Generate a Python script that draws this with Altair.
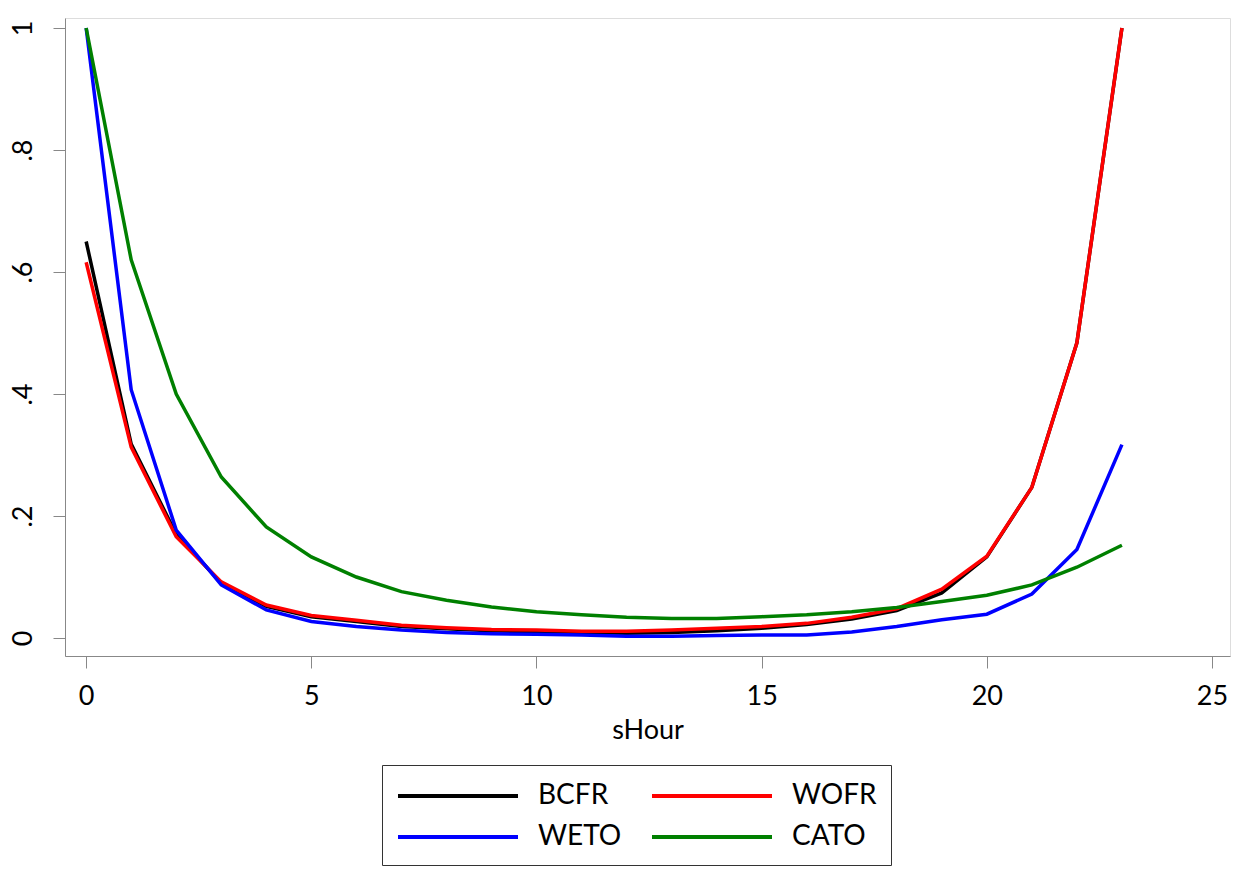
import altair as alt
import pandas as pd

# Hour of day (0-23) and the normalised profile of each series
hours = list(range(24))
bcfr = [0.650, 0.318, 0.170, 0.090, 0.052, 0.035, 0.027, 0.019, 0.015, 0.012,
        0.010, 0.009, 0.008, 0.009, 0.012, 0.016, 0.022, 0.031, 0.045, 0.074,
        0.133, 0.247, 0.484, 1.000]
wofr = [0.616, 0.313, 0.166, 0.092, 0.054, 0.037, 0.029, 0.021, 0.017, 0.014,
        0.013, 0.011, 0.011, 0.013, 0.016, 0.019, 0.024, 0.034, 0.048, 0.080,
        0.134, 0.247, 0.484, 1.000]
weto = [1.000, 0.407, 0.177, 0.087, 0.046, 0.027, 0.019, 0.013, 0.009, 0.007,
        0.006, 0.005, 0.003, 0.003, 0.004, 0.005, 0.005, 0.010, 0.019, 0.030,
        0.039, 0.072, 0.145, 0.317]
cato = [1.000, 0.620, 0.400, 0.264, 0.182, 0.133, 0.100, 0.076, 0.062, 0.051,
        0.043, 0.038, 0.034, 0.032, 0.032, 0.035, 0.038, 0.043, 0.050, 0.060,
        0.070, 0.087, 0.116, 0.152]

series_names = ["BCFR", "WOFR", "WETO", "CATO"]
series_colors = ["#000000", "#ff0000", "#0000ff", "#008000"]
series_values = [bcfr, wofr, weto, cato]
# legend entries fill column by column: BCFR/WETO left, WOFR/CATO right
legend_order = ["BCFR", "WETO", "WOFR", "CATO"]

x_ticks = [0, 5, 10, 15, 20, 25]
y_ticks = [0, 0.2, 0.4, 0.6, 0.8, 1.0]

rows = []
for order, (name, vals) in enumerate(zip(series_names, series_values)):
    for h, v in zip(hours, vals):
        rows.append({"sHour": h, "value": v, "series": name, "order": order})
df = pd.DataFrame(rows)

FONT = "Lato"

chart = (
    alt.Chart(df)
    .mark_line(strokeWidth=3.5)
    .encode(
        x=alt.X(
            "sHour:Q",
            scale=alt.Scale(domain=[-0.47, 25.4], nice=False, zero=False),
            axis=alt.Axis(
                values=x_ticks, title="sHour", grid=False,
                labelFontSize=27, titleFontSize=27, titleFontWeight="normal",
                labelPadding=15, titlePadding=8, tickSize=12,
                labelFont=FONT, titleFont=FONT, labelColor="#000000",
                titleColor="#000000",
            ),
        ),
        y=alt.Y(
            "value:Q",
            scale=alt.Scale(domain=[-0.0295, 1.0164], nice=False, zero=False),
            axis=alt.Axis(
                values=y_ticks, title=None, grid=False,
                labelExpr="datum.value == 0 ? '0' : datum.value == 1 ? '1' : replace(format(datum.value, '.1f'), '0.', '.')",
                labelAngle=270, labelAlign="center", labelBaseline="bottom",
                labelFontSize=27, labelPadding=16, tickSize=12,
                labelFont=FONT, labelColor="#000000",
            ),
        ),
        color=alt.Color(
            "series:N",
            scale=alt.Scale(domain=series_names, range=series_colors),
            legend=alt.Legend(
                title=None, orient="none", legendX=317, legendY=747,
                values=legend_order, columns=2,
                symbolType="M-1,0H7", symbolSize=900,
                symbolStrokeWidth=4, symbolFillColor="transparent",
                labelFontSize=28, labelFont=FONT, labelOffset=108,
                labelColor="#000000", strokeColor="#333333", padding=14,
                columnPadding=22, rowPadding=10, symbolLimit=0,
            ),
        ),
        order=alt.Order("order:Q"),
    )
    .properties(
        width=1165,
        height=638,
        autosize=alt.AutoSizeParams(type="none"),
        padding={"left": 65, "top": 18, "right": 13, "bottom": 213},
    )
    .configure_view(stroke="#333333", strokeWidth=1.5)
    .configure_axis(domainColor="#555555", tickColor="#333333", domainWidth=1.5, tickWidth=1.5)
    .configure(background="#ffffff")
)

chart.save("out.html", embed_options={"renderer": "svg", "actions": False})
